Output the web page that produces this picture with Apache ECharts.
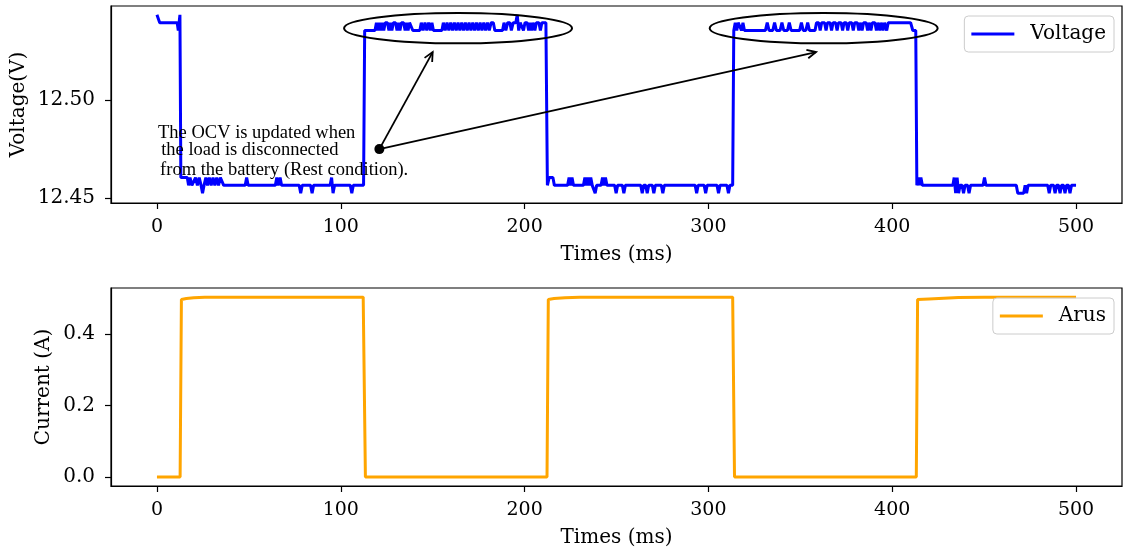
<!DOCTYPE html>
<html>
<head>
<meta charset="utf-8">
<script src="https://cdn.jsdelivr.net/npm/echarts@6/dist/echarts.min.js"></script>
<style>
html, body { margin: 0; padding: 0; background: #fff; }
#chart { width: 1123px; height: 552px; }
</style>
</head>
<body>
<div id="chart"></div>
<script>
// voltage trace, [time ms, volts]
const voltagePoints = [
    [0,12.5435],[1.5,12.5395],[11,12.5395],[11.6,12.5355],[12.5,12.5435],[13,12.4605],
    [16.5,12.4605],[17.2,12.4565],[18,12.4605],[19,12.4565],[20,12.4565],[21,12.4605],[22,12.4565],[23,12.4605],[24,12.4565],[24.8,12.4525],[25.6,12.4565],[26.6,12.4605],[27.5,12.4565],[28.5,12.4605],[29.5,12.4565],[30.5,12.4605],[31.5,12.4565],[32.5,12.4605],[33.5,12.4565],[34.5,12.4605],[35.5,12.4605],[36.3,12.4565],
    [48,12.4565],[48.8,12.4605],[49.6,12.4565],
    [64.4,12.4565],[65.2,12.4605],[66,12.4565],[67,12.4605],[67.8,12.4565],
    [77.4,12.4565],[78.2,12.4525],[79,12.4565],[83.6,12.4565],[84.4,12.4525],[85.2,12.4565],
    [94.2,12.4565],[95,12.4605],[95.8,12.4525],[96.6,12.4565],
    [105.2,12.4565],[106,12.4525],[106.8,12.4565],
    [112.4,12.4565],[113,12.5355],
    [118.6,12.5355],[119.4,12.5395],[120.2,12.5355],[121,12.5395],[121.8,12.5355],[122.6,12.5395],[123.4,12.5355],[124.2,12.5395],[125.4,12.5395],[126.2,12.5355],[127,12.5395],[127.8,12.5355],[128.6,12.5395],[129.8,12.5395],[130.6,12.5355],[131.4,12.5395],[132.2,12.5355],[133,12.5395],[134.2,12.5395],[135,12.5355],[135.8,12.5395],[136.6,12.5355],[137.4,12.5395],[138.4,12.5395],[139.2,12.5355],
    [143,12.5355],[143.8,12.5395],[144.8,12.5355],[145.8,12.5395],[146.8,12.5355],[147.8,12.5395],[148.8,12.5355],[149.6,12.5395],[150.4,12.5355],
    [155,12.5355],[155.8,12.5395],[156.8,12.5355],[157.8,12.5395],[158.8,12.5355],[159.8,12.5395],[160.8,12.5355],[161.8,12.5395],[162.8,12.5355],[163.8,12.5395],[164.8,12.5355],[165.8,12.5395],[166.8,12.5355],[167.8,12.5395],[168.8,12.5355],[169.8,12.5395],[170.8,12.5355],[171.8,12.5395],[172.8,12.5355],[173.8,12.5395],[174.8,12.5355],[175.8,12.5395],[176.8,12.5355],[177.8,12.5395],[178.8,12.5355],[179.8,12.5395],[180.8,12.5355],[181.8,12.5395],[183,12.5395],[183.8,12.5355],
    [188,12.5355],[188.8,12.5395],[189.8,12.5355],[190.8,12.5395],[192,12.5395],[192.8,12.5355],[193.8,12.5395],[195.2,12.5395],[196,12.5435],[196.8,12.5355],[197.6,12.5395],[198.6,12.5395],[199.4,12.5355],[200.2,12.5395],[201.4,12.5395],[202.2,12.5355],[203,12.5395],[203.8,12.5355],[204.6,12.5395],[205.6,12.5355],[206.4,12.5395],[207.8,12.5395],[208.6,12.5355],[209.4,12.5395],[211.6,12.5395],[212.4,12.4565],
    [213.4,12.4605],[215.4,12.4605],[216.2,12.4565],
    [223.4,12.4565],[224.2,12.4605],[225,12.4565],[225.8,12.4605],[226.6,12.4565],
    [232,12.4565],[232.8,12.4605],[233.6,12.4565],[234.4,12.4605],[235.2,12.4565],[236,12.4605],[236.8,12.4565],[237.6,12.4565],[238.4,12.4525],[239.2,12.4565],
    [241.6,12.4565],[242.4,12.4605],[243.2,12.4565],[244,12.4605],[244.8,12.4565],
    [249,12.4565],[249.8,12.4525],[250.6,12.4565],[253.2,12.4565],[254,12.4525],[254.8,12.4565],
    [263.2,12.4565],[264,12.4525],[264.8,12.4565],[265.9,12.4565],[266.7,12.4525],[267.5,12.4565],[269.5,12.4565],[270.3,12.4525],[271.1,12.4565],[274.4,12.4565],[275.2,12.4525],[276,12.4565],
    [292.8,12.4565],[293.6,12.4525],[294.4,12.4565],[297.7,12.4565],[298.5,12.4525],[299.3,12.4565],
    [304.7,12.4565],[305.5,12.4525],[306.3,12.4565],[310.1,12.4565],[310.9,12.4525],[311.7,12.4565],
    [313.2,12.4565],[313.8,12.5355],[314.6,12.5395],[315.4,12.5355],[316.2,12.5395],[317.2,12.5395],[318,12.5355],[318.8,12.5395],[319.6,12.5355],
    [331,12.5355],[332,12.5395],[333,12.5355],[335,12.5355],[336,12.5395],[337,12.5355],[339,12.5355],[340,12.5395],[341,12.5355],[343,12.5355],[344,12.5395],[345,12.5355],
    [349.6,12.5355],[350.6,12.5395],[351.6,12.5355],[353,12.5355],[354,12.5395],[355,12.5355],
    [358,12.5355],[358.8,12.5395],[360,12.5395],[360.8,12.5355],[361.6,12.5395],[363.2,12.5395],[364,12.5355],[364.8,12.5395],[366.2,12.5395],[367,12.5355],[367.8,12.5395],[369.2,12.5395],[370,12.5355],[370.8,12.5395],[372.2,12.5395],[373,12.5355],[373.8,12.5395],[375,12.5395],[375.8,12.5355],[376.6,12.5395],[378,12.5395],[378.8,12.5355],[379.6,12.5395],[381,12.5395],[381.8,12.5355],[382.6,12.5395],[383.6,12.5355],[384.4,12.5395],[385.8,12.5395],[386.6,12.5355],[387.4,12.5395],[388.4,12.5355],[389.2,12.5395],[390.6,12.5395],[391.4,12.5355],[392.2,12.5395],[393.2,12.5355],[394,12.5395],[395,12.5355],[395.8,12.5395],[397,12.5355],[397.8,12.5395],
    [410,12.5395],[411.2,12.5355],[412.8,12.5355],[413.4,12.4565],
    [414.2,12.4605],[414.9,12.4565],[415.6,12.4605],[416.4,12.4565],
    [433,12.4565],[433.7,12.4605],[434.5,12.4525],[435.3,12.4605],[436.1,12.4525],[436.9,12.4565],[438,12.4565],[438.8,12.4525],[439.6,12.4565],[441,12.4565],[441.8,12.4525],[442.6,12.4565],
    [449.4,12.4565],[450.2,12.4605],[451,12.4565],
    [467.5,12.4565],[468.3,12.4525],[471.5,12.4525],[472.3,12.4565],[473.1,12.4525],[473.9,12.4565],
    [484.6,12.4565],[485.4,12.4525],[486.2,12.4565],[487.8,12.4565],[488.6,12.4525],[489.4,12.4565],[490.5,12.4565],[491.3,12.4525],[492.1,12.4565],[493.2,12.4565],[494,12.4525],[494.8,12.4565],[495.9,12.4565],[496.7,12.4525],[497.5,12.4565],[500,12.4565]
];

// current trace, [time ms, amps]
const currentPoints = [
    [0,0],[12.6,0],[13.3,0.4975],[16,0.500],[20,0.502],[26,0.5035],[40,0.504],[112.2,0.504],[113.4,0],
    [212.2,0],[212.9,0.4975],[216,0.500],[222,0.502],[230,0.5035],[250,0.504],[313.2,0.504],[314.2,0],
    [413.1,0],[413.8,0.4975],[420,0.499],[428,0.501],[436,0.503],[450,0.504],[500,0.504]
];

const timeTicks = [0, 100, 200, 300, 400, 500];
const voltageTicks = [12.45, 12.50];
const currentTicks = [0.0, 0.2, 0.4];

const noteLines = ['The OCV is updated when', 'the load is disconnected', 'from the battery (Rest condition).'];
const noteAt = [[0.6, 12.4806], [2.3, 12.4719], [1.7, 12.4617]];
const arrowFrom = [121, 12.475];
const arrowTo = [[150, 12.5245], [358.6, 12.5245]];
const ellipseCenters = [[163.8, 12.5367], [362.7, 12.5367]];

const font = 'DejaVu Serif';
const chart = echarts.init(document.getElementById('chart'));

function xAxisFor(grid) {
    return {
        type: 'value', gridIndex: grid, min: -25, max: 525,
        name: 'Times (ms)', nameLocation: 'middle', nameGap: 42,
        nameTextStyle: { color: '#000', fontFamily: font, fontSize: 20 },
        axisLine: { show: true, onZero: false, lineStyle: { color: '#000', width: 1.2 } },
        axisTick: { show: true, length: 6, customValues: timeTicks, lineStyle: { color: '#000', width: 1.2 } },
        axisLabel: { customValues: timeTicks, color: '#000', fontFamily: font, fontSize: 19, margin: 15 },
        splitLine: { show: false }
    };
}

function yAxisFor(grid, name, min, max, ticks, digits, gap) {
    return {
        type: 'value', gridIndex: grid, min: min, max: max,
        name: name, nameLocation: 'middle', nameGap: gap, nameMoveOverlap: false,
        nameTextStyle: { color: '#000', fontFamily: font, fontSize: 20 },
        axisLine: { show: true, onZero: false, lineStyle: { color: '#000', width: 1.2 } },
        axisTick: { show: true, length: 6, customValues: ticks, lineStyle: { color: '#000', width: 1.2 } },
        axisLabel: {
            customValues: ticks, color: '#000', fontFamily: font, fontSize: 20, margin: 16,
            formatter: function (v) { return v.toFixed(digits); }
        },
        splitLine: { show: false }
    };
}

function legendFor(name, top) {
    return {
        data: [name], right: 9, top: top, orient: 'vertical',
        icon: 'rect', itemWidth: 43, itemHeight: 3,
        padding: [8, 8, 8, 7],
        backgroundColor: 'rgba(255,255,255,0.8)',
        borderColor: '#cccccc', borderWidth: 1, borderRadius: 4,
        textStyle: { color: '#000', fontFamily: font, fontSize: 20, padding: [0, 0, 0, 11] }
    };
}

chart.setOption({
    animation: false,
    backgroundColor: '#fff',
    grid: [
        { left: 111, right: 1, top: 6, height: 197, show: true, borderColor: '#000', borderWidth: 1.2 },
        { left: 111, right: 1, top: 288, height: 198, show: true, borderColor: '#000', borderWidth: 1.2 }
    ],
    legend: [legendFor('Voltage', 16), legendFor('Arus', 298)],
    xAxis: [xAxisFor(0), xAxisFor(1)],
    yAxis: [
        yAxisFor(0, 'Voltage(V)', 12.4475, 12.548, voltageTicks, 2, 82),
        yAxisFor(1, 'Current (A)', -0.0252, 0.5296, currentTicks, 1, 57)
    ],
    series: [
        {
            name: 'Voltage', type: 'line', xAxisIndex: 0, yAxisIndex: 0,
            data: voltagePoints, showSymbol: false, color: '#0000ff',
            lineStyle: { width: 3, color: '#0000ff' }
        },
        {
            name: 'Arus', type: 'line', xAxisIndex: 1, yAxisIndex: 1,
            data: currentPoints, showSymbol: false, color: '#ffa500',
            lineStyle: { width: 3, color: '#ffa500' }
        }
    ]
});

// annotation: ellipses, arrows and the note, placed through the top grid's scales
function drawNotes() {
    const px = function (p) { return chart.convertToPixel({ gridIndex: 0 }, p); };
    const g = [];
    ellipseCenters.forEach(function (c) {
        const p = px(c);
        g.push({ type: 'ellipse', shape: { cx: p[0], cy: p[1], rx: 114, ry: 15.2 },
                 style: { fill: null, stroke: '#000', lineWidth: 2 }, z: 100 });
    });
    const a = px(arrowFrom);
    arrowTo.forEach(function (t) {
        const b = px(t);
        const ang = Math.atan2(b[1] - a[1], b[0] - a[0]);
        const len = 10, spread = 0.45;
        g.push({ type: 'line', shape: { x1: a[0], y1: a[1], x2: b[0], y2: b[1] },
                 style: { stroke: '#000', lineWidth: 1.8 }, z: 100 });
        g.push({ type: 'polyline', shape: { points: [
                    [b[0] - len * Math.cos(ang - spread), b[1] - len * Math.sin(ang - spread)],
                    [b[0], b[1]],
                    [b[0] - len * Math.cos(ang + spread), b[1] - len * Math.sin(ang + spread)]
                 ] },
                 style: { fill: null, stroke: '#000', lineWidth: 1.8 }, z: 100 });
    });
    g.push({ type: 'circle', shape: { cx: a[0], cy: a[1], r: 5 }, style: { fill: '#000' }, z: 101 });
    noteLines.forEach(function (s, i) {
        const p = px(noteAt[i]);
        g.push({ type: 'text', x: p[0], y: p[1] - 5, z: 102,
                 style: { text: s, fill: '#000', font: '18.5px "Liberation Serif"', verticalAlign: 'middle', align: 'left' } });
    });
    chart.setOption({ graphic: g });
}
drawNotes();

window.addEventListener('resize', function () {
    chart.resize();
    drawNotes();
});
</script>
</body>
</html>
